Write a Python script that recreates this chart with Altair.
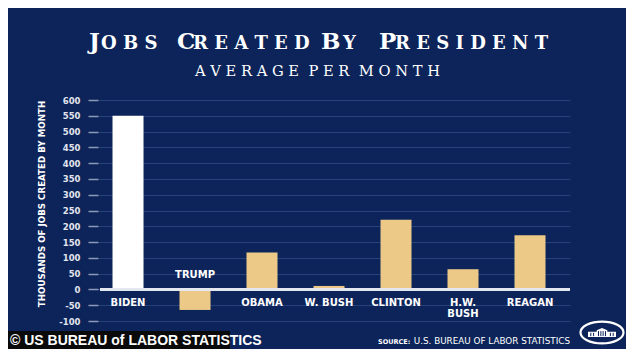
import altair as alt
import pandas as pd

# ---- data ----
presidents = ["BIDEN", "TRUMP", "OBAMA", "W. BUSH", "CLINTON", "H.W. BUSH", "REAGAN"]
labels = ["BIDEN", "TRUMP", "OBAMA", "W. BUSH", "CLINTON", "H.W.\nBUSH", "REAGAN"]
jobs = [550, -65, 117, 11, 221, 64, 172]
y_ticks = list(range(-100, 601, 50))

title_parts = [("J", "OBS"), ("C", "REATED"), ("B", "Y"), ("P", "RESIDENT")]
subtitle = "AVERAGE PER MONTH"
y_title = "THOUSANDS OF JOBS CREATED BY MONTH"
source_lead = "SOURCE:"
source_rest = "U.S. BUREAU OF LABOR STATISTICS"
watermark = "\u00a9 US BUREAU of LABOR STATISTICS"

BG = "#0c2459"
GOLD = "#ecc986"
GRID = "#27427a"
NB = "\u00a0"

df = pd.DataFrame({"president": presidents, "label": labels, "jobs": jobs})
base = alt.Chart(df)

xenc = alt.X("president:N", sort=presidents, axis=None,
             scale=alt.Scale(paddingInner=0.537, paddingOuter=0.291, align=0.372))
yscale = alt.Scale(domain=[-100, 600], nice=False, zero=False)

bars = base.mark_bar().encode(
    x=xenc,
    y=alt.Y("jobs:Q", scale=yscale,
            axis=alt.Axis(values=y_ticks, tickCount=len(y_ticks), title=None, grid=True,
                          gridColor=GRID, gridWidth=1.2,
                          domain=False, tickSize=10, tickColor="#8c9ab8", tickWidth=1.5,
                          labelOverlap=False, labelExpr="'' + datum.value",
                          labelPadding=8, labelFont="DejaVu Sans", labelFontWeight="bold",
                          labelFontSize=8.5, labelColor="#e2e5ee")),
    y2=alt.datum(0),
    color=alt.condition(alt.datum.president == "BIDEN", alt.value("#ffffff"), alt.value(GOLD)),
)

zero = base.mark_rule(color="#e4e7ef", strokeWidth=2).encode(
    x=alt.value(2), x2=alt.value(472), y=alt.datum(0))

lab_pos = base.transform_filter(alt.datum.jobs >= 0).mark_text(
    baseline="top", dy=9, font="DejaVu Sans", fontWeight="bold", fontSize=10,
    color="white", lineBreak="\n", lineHeight=11).encode(x=xenc, y=alt.datum(0), text="label:N")
lab_neg = base.transform_filter(alt.datum.jobs < 0).mark_text(
    baseline="bottom", dy=-9, font="DejaVu Sans", fontWeight="bold", fontSize=10,
    color="white").encode(x=xenc, y=alt.datum(0), text="label:N")


def txt(t, x, y, **kw):
    return alt.Chart(pd.DataFrame({"t": [t]})).mark_text(**kw).encode(
        x=alt.value(x), y=alt.value(y), text="t:N")


sp = lambda s: NB.join(s)
layers = [bars, zero, lab_pos, lab_neg]

# Title in small caps (big initial + spaced smaller letters)
big_x = [-9, 79, 223, 281]
small_x = [3, 95, 245, 297]
for (b, s), bx, sx in zip(title_parts, big_x, small_x):
    layers.append(txt(b, bx, -51, align="left", baseline="alphabetic", font="DejaVu Serif",
                      fontWeight="bold", fontSize=23, color="white"))
    layers.append(txt(sp(s), sx, -51, align="left", baseline="alphabetic", font="DejaVu Serif",
                      fontWeight="bold", fontSize=18, color="white"))

sub = (NB * 2).join(sp(w) for w in subtitle.split(" "))
layers.append(txt(sub, 219.5, -24, align="center", baseline="alphabetic", font="DejaVu Serif",
                  fontSize=14.7, color="white"))

layers.append(txt(y_title, -56, 104, align="center", baseline="middle", angle=270,
                  font="DejaVu Sans", fontWeight="bold", fontSize=8.7, color="white"))

layers.append(txt(source_lead, 280, 244, align="left", baseline="alphabetic", font="DejaVu Sans",
                  fontWeight="bold", fontSize=6.5, color="white"))
layers.append(txt(source_rest, 472, 244, align="right", baseline="alphabetic", font="DejaVu Sans",
                  fontSize=8.8, color="white"))

# White House emblem
ell = "M -1 0 A 1 0.51 0 1 0 1 0 A 1 0.51 0 1 0 -1 0 Z"
house = ("M -1 0.32 L 1 0.32 L 1 -0.06 L 0.38 -0.06 L 0.38 -0.16 L 0 -0.32 L -0.38 -0.16 "
         "L -0.38 -0.06 L -1 -0.06 Z")
cols = ("M -0.8 0.02 L -0.8 0.26 M -0.6 0.02 L -0.6 0.26 M -0.25 -0.1 L -0.25 0.26 "
        "M -0.08 -0.1 L -0.08 0.26 M 0.08 -0.1 L 0.08 0.26 M 0.25 -0.1 L 0.25 0.26 "
        "M 0.6 0.02 L 0.6 0.26 M 0.8 0.02 L 0.8 0.26")
emb = alt.Chart(pd.DataFrame({"k": [0]}))
layers.append(emb.mark_point(shape=ell, size=1849, stroke="white", strokeWidth=2.2,
                             fill=BG, filled=False, opacity=1).encode(x=alt.value(504), y=alt.value(232.5)))
layers.append(emb.mark_point(shape=house, size=784, fill="white", filled=True, opacity=1,
                             strokeWidth=0).encode(x=alt.value(504), y=alt.value(232.5)))
layers.append(emb.mark_point(shape=cols, size=784, stroke=BG, strokeWidth=1, filled=False,
                             opacity=1).encode(x=alt.value(504), y=alt.value(232.5)))

# watermark box
layers.append(emb.mark_rect(color="#0a0a0a").encode(
    x=alt.value(-90), x2=alt.value(132), y=alt.value(231), y2=alt.value(249)))
layers.append(txt(watermark, -88, 245, align="left", baseline="alphabetic",
                  font="Liberation Sans Narrow, Liberation Sans", fontWeight="bold",
                  fontSize=14, color="white"))

chart = alt.layer(*layers).properties(
    width=472, height=221,
    padding={"left": 90, "top": 92, "right": 56, "bottom": 28},
    autosize=alt.AutoSizeParams(type="none"),
    background=BG,
).configure_view(stroke=None)

chart.save("out.html", embed_options={"renderer": "svg", "actions": False})
